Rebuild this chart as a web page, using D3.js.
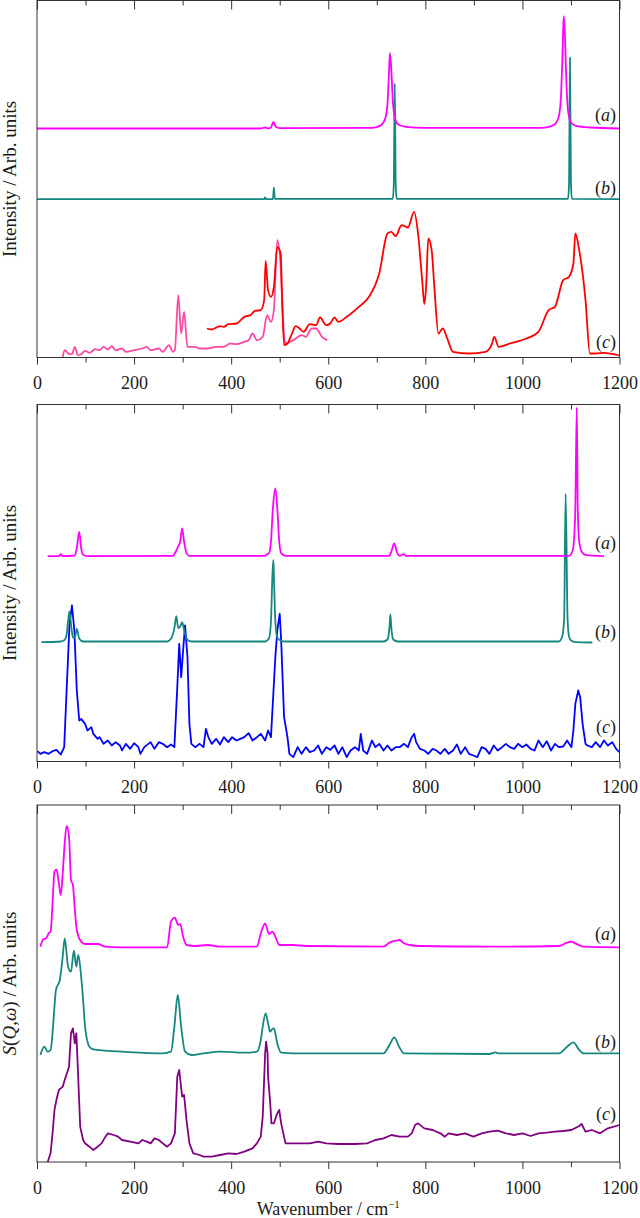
<!DOCTYPE html>
<html><head><meta charset="utf-8">
<script src="https://cdn.jsdelivr.net/npm/d3@7"></script>
<style>
body{margin:0;background:#fff}
svg{display:block}
svg text{font-family:"Liberation Serif","Times New Roman",Times,"DejaVu Serif",serif !important;fill:#1a1a1a}
</style>
</head><body>
<svg id="chart" width="640" height="1218" font-family="Liberation Serif, DejaVu Serif, serif"></svg>
<script>
// ---------- tick values and labels ----------
const xMajorTicks = [0, 200, 400, 600, 800, 1000, 1200];
const xMinorTicks = [100, 300, 500, 700, 900, 1100];
const seriesNames = ["a", "b", "c"];
const intensityMax = 1071;

// ---------- panel 1 (IR-type spectra) : [wavenumber, intensity] ----------
const p1a = [[0,687],[460,687],[470,690],[476,687],[482,690],[487,707],[492,692],[500,688],[690,689],[705,694],[712,702],[718,720],[722,760],[725,850],[727,914],[730,860],[733,770],[738,715],[745,698],[760,692],[800,689],[1040,689],[1060,694],[1070,705],[1076,730],[1080,800],[1083,930],[1085,1024],[1087,990],[1090,850],[1094,740],[1100,705],[1110,695],[1140,690],[1200,687]];
const p1b = [[0,475],[468,475],[470,480],[472,475],[486,475],[488,510],[490,476],[733,476],[735,520],[737,822],[739,520],[741,476],[1094,476],[1096,520],[1098,900],[1100,520],[1102,476],[1200,475]];
const p1c = [[350,87],[360,84],[377,94],[385,92],[394,100],[411,102],[427,122],[440,127],[449,140],[461,142],[468,172],[471,290],[476,202],[482,182],[488,212],[495,332],[502,312],[505,172],[509,37],[516,42],[524,67],[533,94],[541,87],[549,77],[562,100],[575,97],[583,120],[596,97],[604,102],[613,120],[621,107],[638,122],[663,152],[684,182],[705,252],[722,372],[730,377],[739,364],[751,397],[764,390],[777,437],[785,372],[794,222],[798,160],[802,222],[806,357],[813,322],[819,202],[827,72],[836,87],[844,62],[857,17],[890,12],[924,17],[937,40],[942,62],[951,32],[974,42],[1008,57],[1033,77],[1054,142],[1067,152],[1084,232],[1096,242],[1105,282],[1109,372],[1117,322],[1130,172],[1139,12],[1151,12],[1168,14],[1200,6]];
const p1cLow = [[53,2],[57,22],[61,17],[66,10],[72,10],[78,32],[84,7],[91,10],[99,20],[108,14],[120,25],[129,22],[137,32],[146,24],[154,34],[162,22],[175,27],[183,17],[200,22],[217,27],[226,32],[234,22],[251,27],[259,17],[272,37],[280,17],[284,22],[291,187],[297,72],[303,137],[310,32],[326,32],[335,27],[352,27],[369,32],[385,32],[398,42],[411,40],[427,47],[436,52],[444,72],[453,52],[465,62],[474,127],[482,107],[488,142],[495,352],[502,272],[507,112],[511,42],[528,52],[545,67],[554,62],[566,87],[575,87],[587,62],[598,52]];

// ---------- panel 2 (Raman-type spectra) ----------
const p2a = [[22,616],[45,616],[49,622],[53,616],[78,618],[82,640],[87,689],[91,640],[95,620],[104,616],[280,617],[286,630],[291,646],[295,660],[299,699],[303,660],[308,625],[314,617],[470,617],[474,622],[478,625],[482,660],[486,760],[491,819],[495,760],[499,660],[503,625],[512,617],[726,617],[730,630],[736,654],[741,630],[747,617],[756,622],[760,617],[1096,617],[1103,630],[1106,660],[1109,760],[1112,1062],[1114,760],[1117,660],[1122,630],[1130,620],[1168,616]];
const p2b = [[9,358],[49,360],[57,365],[61,380],[64,420],[67,450],[71,400],[74,372],[78,372],[82,398],[87,368],[95,360],[268,360],[276,368],[283,400],[287,436],[291,400],[295,405],[299,418],[303,395],[310,365],[318,360],[470,360],[478,370],[482,420],[485,560],[487,605],[488,560],[491,420],[495,372],[503,362],[512,360],[714,360],[722,366],[726,400],[728,441],[730,400],[734,366],[743,360],[1075,360],[1082,375],[1086,430],[1089,803],[1093,430],[1096,375],[1101,362],[1109,358],[1144,357]];
const p2c = [[1,31],[7,23],[15,28],[24,23],[32,31],[40,35],[49,21],[56,43],[61,213],[67,413],[72,468],[77,393],[82,213],[87,123],[91,128],[99,113],[104,93],[112,103],[116,83],[125,68],[129,73],[137,53],[146,63],[154,48],[162,58],[171,48],[175,33],[183,53],[192,38],[200,55],[209,43],[213,23],[221,43],[234,58],[242,38],[251,58],[259,53],[268,43],[276,51],[283,43],[289,223],[293,353],[297,253],[301,333],[305,408],[310,313],[314,113],[318,53],[326,43],[335,53],[343,43],[348,98],[353,73],[360,53],[369,68],[377,51],[385,73],[394,58],[402,73],[411,63],[419,68],[427,73],[436,85],[444,63],[453,73],[461,83],[470,63],[476,93],[482,73],[491,313],[495,393],[500,443],[503,363],[509,133],[516,73],[520,23],[528,13],[537,43],[545,23],[554,43],[562,28],[571,33],[579,48],[587,23],[596,43],[604,35],[613,48],[621,23],[629,43],[638,13],[646,33],[655,43],[663,33],[667,83],[672,33],[680,23],[690,63],[697,43],[705,53],[714,33],[722,48],[730,33],[739,43],[747,43],[756,53],[764,43],[772,73],[777,83],[781,58],[789,38],[798,33],[806,23],[815,38],[823,33],[831,23],[840,38],[848,23],[857,33],[865,51],[873,23],[882,43],[890,23],[899,18],[907,13],[916,43],[924,38],[932,23],[941,48],[949,33],[958,43],[966,53],[974,43],[983,38],[991,53],[1000,43],[1008,51],[1017,38],[1025,33],[1033,63],[1042,43],[1050,61],[1059,33],[1067,53],[1075,43],[1084,45],[1092,63],[1101,43],[1105,93],[1109,173],[1115,213],[1119,193],[1124,113],[1130,53],[1134,48],[1143,43],[1151,58],[1160,43],[1168,63],[1176,48],[1185,58],[1193,38],[1200,28]];

// ---------- panel 3 (INS S(Q,w) spectra) ----------
const p3a = [[7,646],[13,668],[19,671],[24,686],[28,691],[32,776],[36,871],[40,878],[45,836],[49,801],[53,866],[57,956],[61,1008],[66,976],[70,846],[74,831],[78,756],[82,696],[91,661],[99,654],[125,654],[141,646],[175,644],[268,644],[276,721],[284,733],[291,711],[295,714],[301,676],[308,651],[326,648],[352,651],[377,646],[453,646],[461,686],[470,716],[478,684],[485,691],[491,676],[499,651],[528,651],[554,648],[714,646],[726,658],[739,664],[747,666],[756,656],[768,651],[789,648],[932,646],[1075,648],[1092,658],[1101,661],[1109,656],[1126,646],[1200,644]];
const p3b = [[7,321],[15,346],[22,331],[28,336],[32,386],[35,446],[39,516],[47,546],[53,616],[57,671],[61,626],[64,586],[70,571],[76,634],[81,586],[85,621],[91,556],[95,486],[99,406],[108,346],[116,338],[141,334],[175,331],[259,326],[276,331],[283,406],[290,501],[297,406],[305,331],[318,321],[343,326],[377,331],[427,328],[453,331],[461,366],[465,406],[471,446],[476,416],[480,391],[484,398],[488,401],[495,356],[503,328],[528,326],[714,326],[726,351],[736,374],[746,346],[756,326],[932,324],[945,329],[949,326],[1075,326],[1092,346],[1105,359],[1117,336],[1126,326],[1200,326]];
const p3c = [[22,0],[28,26],[32,86],[36,156],[40,186],[45,216],[49,221],[53,226],[57,246],[66,286],[70,386],[74,401],[78,356],[81,386],[84,286],[89,106],[95,66],[99,56],[108,46],[116,36],[125,46],[133,56],[141,76],[146,86],[158,81],[167,76],[175,66],[192,61],[209,56],[217,66],[226,61],[234,56],[242,71],[251,66],[259,56],[268,46],[276,56],[284,86],[289,256],[293,276],[299,196],[303,201],[308,126],[314,56],[322,26],[335,21],[343,16],[360,16],[377,21],[394,26],[411,24],[427,31],[444,41],[453,56],[461,76],[465,136],[470,326],[472,361],[475,326],[476,256],[480,186],[483,116],[488,116],[495,146],[499,156],[503,116],[512,56],[528,56],[562,56],[579,61],[596,56],[621,54],[655,54],[680,56],[697,66],[714,71],[730,81],[747,76],[764,76],[772,86],[779,111],[785,116],[798,101],[815,96],[831,86],[840,76],[848,86],[865,81],[882,86],[899,76],[916,86],[932,91],[949,94],[966,86],[983,81],[1000,86],[1017,78],[1033,86],[1050,88],[1067,91],[1084,93],[1101,96],[1117,108],[1122,114],[1130,91],[1143,96],[1160,86],[1176,101],[1200,111]];

// label levels (intensity units) for the (a)(b)(c) tags
const labelLevels = [[727, 508, 47], [655, 389, 104], [686, 361, 146]];

// ---------- layout ----------
const FONT = '"Liberation Serif", "Times New Roman", Times, "DejaVu Serif", serif';
const left = 37, right = 619.5, panelH = 357;
const panelTops = [0.5, 404.5, 805];
const magenta = "#ff00ff", teal = "#14877f", red = "#ff0000", pink = "#ff4aa5", blue = "#0000ff", purple = "#800080";

const panels = [
  {title: "intensity", series: [{d: p1cLow, c: pink, smooth: true}, {d: p1c, c: red, smooth: true}, {d: p1b, c: teal, smooth: true}, {d: p1a, c: magenta, smooth: true}]},
  {title: "intensity", series: [{d: p2c, c: blue}, {d: p2b, c: teal, smooth: true}, {d: p2a, c: magenta, smooth: true}]},
  {title: "sqw", series: [{d: p3c, c: purple}, {d: p3b, c: teal, smooth: true}, {d: p3a, c: magenta, smooth: true}]}
];

const svg = d3.select("#chart");
const x = d3.scaleLinear().domain([0, 1200]).range([left, right]);

panels.forEach((p, i) => {
  const top = panelTops[i], bottom = top + panelH;
  const y = d3.scaleLinear().domain([0, intensityMax]).range([bottom, top]);
  const g = svg.append("g");

  const clipId = "clip" + i;
  g.append("clipPath").attr("id", clipId).append("rect")
    .attr("x", left).attr("y", top).attr("width", right - left).attr("height", panelH);

  const lines = g.append("g").attr("clip-path", `url(#${clipId})`);
  p.series.forEach(s => {
    const line = d3.line().x(d => x(d[0])).y(d => y(d[1]))
      .curve(s.smooth ? d3.curveMonotoneX : d3.curveLinear);
    lines.append("path").attr("d", line(s.d)).attr("fill", "none")
      .attr("stroke", s.c).attr("stroke-width", 1.8).attr("stroke-linejoin", "round");
  });

  // bottom axis: ticks outward
  const bAxis = g.append("g").attr("transform", `translate(0,${bottom})`)
    .call(d3.axisBottom(x).tickValues(xMajorTicks).tickSize(7).tickPadding(12).tickFormat(d3.format("d")));
  bAxis.append("g").call(d3.axisBottom(x).tickValues(xMinorTicks).tickSize(5).tickFormat(""));
  // top axis: ticks inward
  const tAxis = g.append("g").attr("transform", `translate(0,${top})`)
    .call(d3.axisBottom(x).tickValues(xMajorTicks).tickSize(9).tickFormat(""));
  tAxis.append("g").call(d3.axisBottom(x).tickValues(xMinorTicks).tickSize(5).tickFormat(""));
  g.selectAll(".domain").remove();
  g.selectAll("g").attr("font-family", FONT);
  g.selectAll(".tick line").attr("stroke", "#333").attr("stroke-width", 1);
  g.selectAll(".tick text").attr("font-size", 18).attr("fill", "#1a1a1a").style("font-family", FONT);

  g.append("rect").attr("x", left).attr("y", top).attr("width", right - left).attr("height", panelH)
    .attr("fill", "none").attr("stroke", "#333").attr("stroke-width", 1);

  // series tags
  seriesNames.forEach((nm, k) => {
    const t = g.append("text").attr("x", 616).attr("y", y(labelLevels[i][k])).attr("dy", "0.35em")
      .attr("text-anchor", "end").attr("font-size", 18).style("font-family", FONT);
    t.append("tspan").text("(");
    t.append("tspan").attr("font-style", "italic").text(nm);
    t.append("tspan").text(")");
  });

  // y title
  const yt = g.append("text").attr("transform", `translate(16,${top + panelH / 2}) rotate(-90)`)
    .attr("text-anchor", "middle").attr("font-size", 19).style("font-family", FONT);
  if (p.title === "intensity") {
    yt.text("Intensity / Arb. units");
  } else {
    yt.append("tspan").attr("font-style", "italic").text("S");
    yt.append("tspan").text("(");
    yt.append("tspan").attr("font-style", "italic").text("Q");
    yt.append("tspan").text(",");
    yt.append("tspan").attr("font-style", "italic").text("ω");
    yt.append("tspan").text(") / Arb. units");
  }
});

// x title
const xt = svg.append("text").attr("x", (left + right) / 2).attr("y", 1215)
  .attr("text-anchor", "middle").attr("font-size", 18).style("font-family", FONT);
xt.append("tspan").text("Wavenumber / cm");
xt.append("tspan").attr("dy", -7).attr("font-size", 11).text("−1");
</script>
</body></html>
